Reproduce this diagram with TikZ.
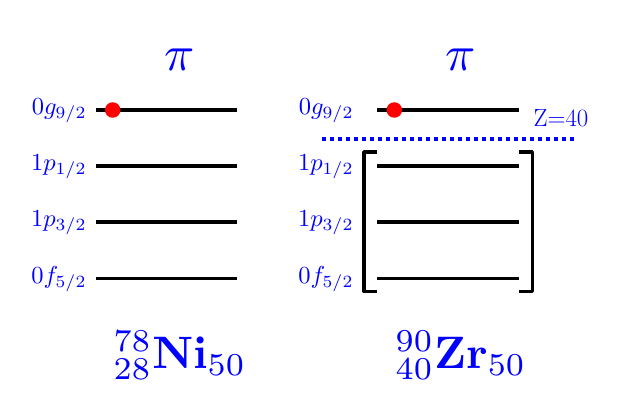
\documentclass[tikz,border=0pt]{standalone}
\usetikzlibrary{calc}
\begin{document}
\begin{tikzpicture}[x=1pt,y=-1pt,
  lvl/.style={line width=3.6pt},
  lab/.style={text=blue, anchor=base east, inner sep=0pt, font=\normalsize, scale=2.45},
  pilab/.style={text=blue, inner sep=0pt, font=\normalsize, scale=5},
  nuc/.style={text=blue, inner sep=0pt, anchor=base, font=\normalsize, scale=4.55},
  elec/.style={circle, fill=red, inner sep=0pt, minimum size=15.5pt},
  brk/.style={line width=3.4pt, line join=round},
  gap/.style={blue, line width=4pt, dash pattern=on 4.2pt off 3.8pt}]
\useasboundingbox (0,0) rectangle (623,417);
\foreach \n/\y in {1/110,2/166,3/222,4/278.5}{
  \coordinate (La\n) at (96,\y);
  \coordinate (Lb\n) at (237,\y);
  \draw[lvl] (La\n) -- (Lb\n);
  \coordinate (Ra\n) at (377,\y);
  \coordinate (Rb\n) at (519,\y);
  \draw[lvl] (Ra\n) -- (Rb\n);
}
\node[lab] (lg) at (87,114.5) {$0g_{9/2}$};
\node[lab] (lp1) at (87,170.5) {$1p_{1/2}$};
\node[lab] (lp3) at (87,226.5) {$1p_{3/2}$};
\node[lab] (lf) at (87,283) {$0f_{5/2}$};
\node[lab] (rg) at (354,114.5) {$0g_{9/2}$};
\node[lab] (rp1) at (354,170.5) {$1p_{1/2}$};
\node[lab] (rp3) at (354,226.5) {$1p_{3/2}$};
\node[lab] (rf) at (354,283) {$0f_{5/2}$};
\node[elec] (eL) at (112.7,110) {};
\node[elec] (eR) at (394.3,110) {};
\node[pilab] (piL) at (180,59.7) {$\pi$};
\node[pilab] (piR) at (461,59.7) {$\pi$};
\coordinate (gA) at (322,138.5);
\coordinate (gB) at (574,138.5);
\draw[gap] (gA) -- (gB);
\node[text=blue, inner sep=0pt, anchor=base, font=\Huge, scale=1.0] (zl) at (561,127) {Z=40};
\coordinate (b1) at (377,152);
\coordinate (b2) at (364,152);
\coordinate (b3) at (364,291.5);
\coordinate (b4) at (377,291.5);
\draw[brk] (b1) -- (b2) -- (b3) -- (b4);
\coordinate (c1) at (519,152);
\coordinate (c2) at (532.3,152);
\coordinate (c3) at (532.3,291.5);
\coordinate (c4) at (519,291.5);
\draw[brk] (c1) -- (c2) -- (c3) -- (c4);
\node[nuc] (ni) at (180,368.3) {${}^{78}_{28}\mathbf{Ni}_{50}$};
\node[nuc] (zr) at (461,368.3) {${}^{90}_{40}\mathbf{Zr}_{50}$};
\end{tikzpicture}
\end{document}
